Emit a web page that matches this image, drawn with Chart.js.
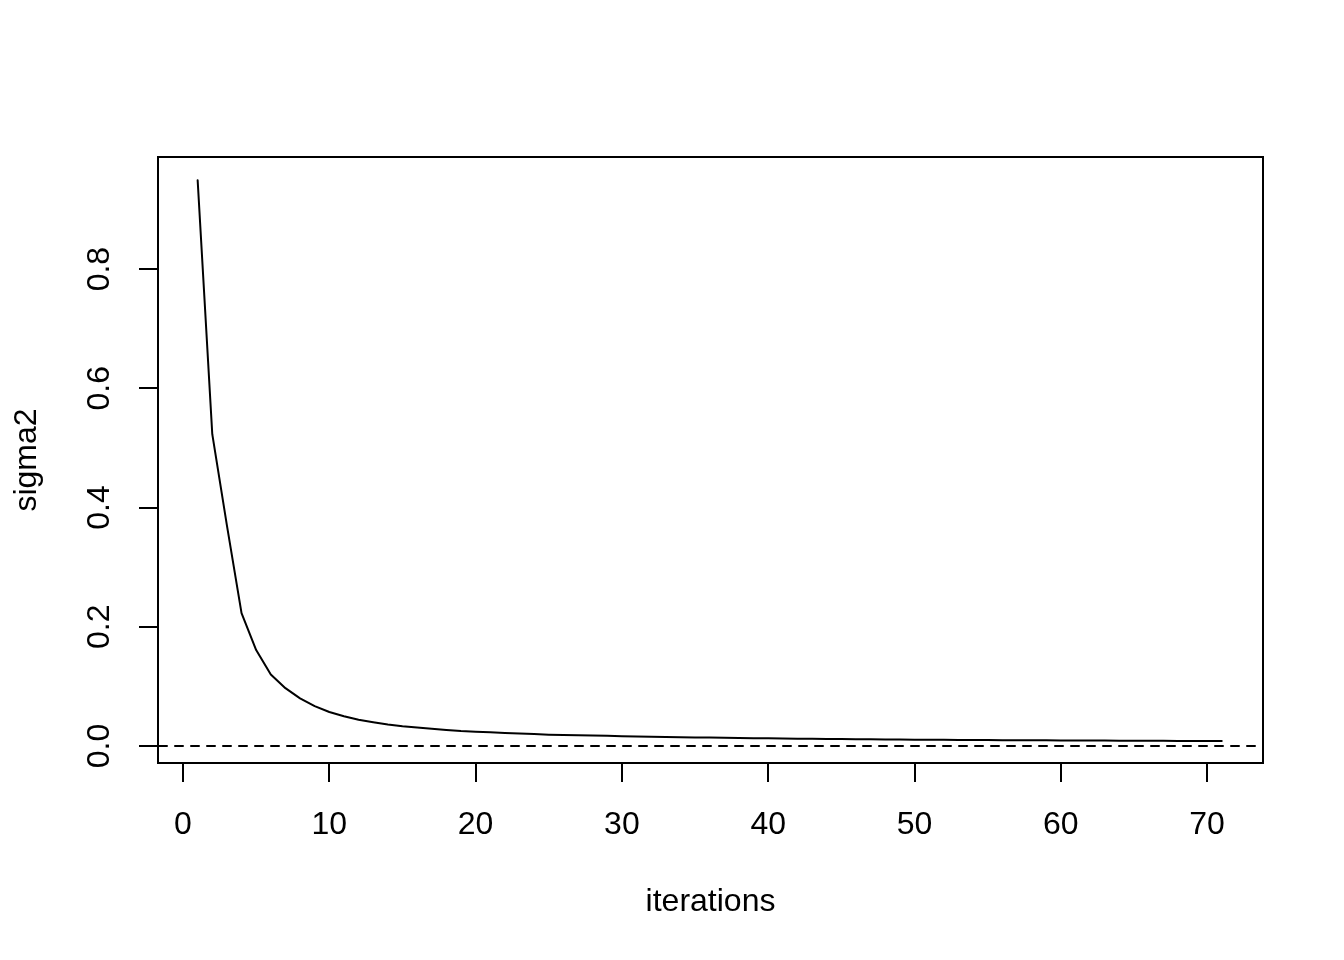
<!DOCTYPE html>
<html>
<head>
<meta charset="utf-8">
<script src="https://cdn.jsdelivr.net/npm/chart.js@4/dist/chart.umd.min.js"></script>
<style>
  html, body { margin: 0; padding: 0; background: #ffffff; }
  #wrap { width: 1344px; height: 960px; }
</style>
</head>
<body>
<div id="wrap"><canvas id="c" width="1344" height="960"></canvas></div>
<script>
// ---- data ----
const iterations = [
  1, 2, 3, 4, 5, 6, 7, 8, 9, 10,
  11, 12, 13, 14, 15, 16, 17, 18, 19, 20,
  21, 22, 23, 24, 25, 26, 27, 28, 29, 30,
  31, 32, 33, 34, 35, 36, 37, 38, 39, 40,
  41, 42, 43, 44, 45, 46, 47, 48, 49, 50,
  51, 52, 53, 54, 55, 56, 57, 58, 59, 60,
  61, 62, 63, 64, 65, 66, 67, 68, 69, 70, 71
];
const sigma2 = [
  0.949, 0.523, 0.370, 0.223, 0.161, 0.120, 0.097, 0.080, 0.067, 0.057,
  0.050, 0.044, 0.040, 0.036, 0.033, 0.031, 0.029, 0.027, 0.025, 0.024,
  0.023, 0.022, 0.021, 0.020, 0.019, 0.0185, 0.018, 0.0175, 0.017, 0.0165,
  0.016, 0.0155, 0.015, 0.0147, 0.0144, 0.0141, 0.0138, 0.0135, 0.0132, 0.0129,
  0.0126, 0.0123, 0.0121, 0.0119, 0.0117, 0.0115, 0.0113, 0.0111, 0.0109, 0.0107,
  0.0105, 0.0103, 0.0101, 0.0100, 0.0099, 0.0098, 0.0097, 0.0096, 0.0095, 0.0094,
  0.0093, 0.0092, 0.0091, 0.0090, 0.0089, 0.0088, 0.0087, 0.0086, 0.0085, 0.0084, 0.0083
];
const xTicks = [0, 10, 20, 30, 40, 50, 60, 70];
const yTicks = [0.0, 0.2, 0.4, 0.6, 0.8];
const yTickLabels = ["0.0", "0.2", "0.4", "0.6", "0.8"];
const referenceLevel = [0];
const xTitle = "iterations";
const yTitle = "sigma2";

// ---- chart ----
const FONT = "'Liberation Sans', Arial, Helvetica, sans-serif";
const points = iterations.map((x, i) => ({ x: x, y: sigma2[i] }));

const framePlugin = {
  id: 'rframe',
  beforeDraw(chart) {
    const ctx = chart.ctx;
    ctx.save();
    ctx.fillStyle = '#ffffff';
    ctx.fillRect(0, 0, chart.width, chart.height);
    ctx.restore();
  },
  afterDatasetsDraw(chart) {
    const ctx = chart.ctx;
    const a = chart.chartArea;
    const ys = chart.scales.y;
    ctx.save();
    // dashed horizontal reference line (abline h = 0)
    ctx.strokeStyle = '#000000';
    ctx.lineWidth = 2;
    ctx.lineCap = 'round';
    ctx.setLineDash([8, 8]);
    referenceLevel.forEach(v => {
      const py = Math.round(ys.getPixelForValue(v));
      ctx.beginPath();
      ctx.moveTo(a.left + 1, py);
      ctx.lineTo(a.right - 1, py);
      ctx.stroke();
    });
    ctx.setLineDash([]);
    ctx.lineCap = 'butt';
    // box
    ctx.lineWidth = 2;
    ctx.strokeRect(a.left, a.top, a.right - a.left, a.bottom - a.top);
    ctx.restore();
  }
};

new Chart(document.getElementById('c'), {
  type: 'line',
  data: {
    datasets: [{
      data: points,
      borderColor: '#000000',
      borderWidth: 2,
      borderJoinStyle: 'round',
      borderCapStyle: 'round',
      pointRadius: 0,
      fill: false,
      tension: 0
    }]
  },
  options: {
    responsive: false,
    animation: false,
    devicePixelRatio: 1,
    layout: { padding: { top: 157, right: 81, left: 0, bottom: 0 } },
    plugins: { legend: { display: false }, tooltip: { enabled: false } },
    scales: {
      x: {
        type: 'linear',
        position: 'bottom',
        min: -1.71,
        max: 73.82,
        afterBuildTicks(s) { s.ticks = xTicks.map(v => ({ value: v })); },
        afterFit(s) { s.height = 197; },
        grid: { display: true, drawOnChartArea: false, drawTicks: true, tickLength: 19, color: '#000000', lineWidth: 2 },
        border: { display: false },
        ticks: {
          color: '#000000',
          font: { family: FONT, size: 32 },
          padding: 24,
          maxRotation: 0,
          minRotation: 0,
          autoSkip: false,
          callback: (v) => String(v)
        },
        title: {
          display: true,
          text: xTitle,
          color: '#000000',
          font: { family: FONT, size: 32 },
          padding: { top: 0, bottom: 39 }
        }
      },
      y: {
        type: 'linear',
        position: 'left',
        min: -0.0285,
        max: 0.988,
        afterBuildTicks(s) { s.ticks = yTicks.map(v => ({ value: v })); },
        afterFit(s) { s.width = 158; },
        grid: { display: true, drawOnChartArea: false, drawTicks: true, tickLength: 19, color: '#000000', lineWidth: 2 },
        border: { display: false },
        ticks: {
          color: '#000000',
          font: { family: FONT, size: 32 },
          padding: 17,
          minRotation: 90,
          maxRotation: 90,
          crossAlign: 'center',
          autoSkip: false,
          callback: (v, i) => yTickLabels[i]
        },
        title: {
          display: true,
          text: yTitle,
          color: '#000000',
          font: { family: FONT, size: 32 },
          padding: { top: 8, bottom: 0 }
        }
      }
    }
  },
  plugins: [framePlugin]
});
</script>
</body>
</html>
